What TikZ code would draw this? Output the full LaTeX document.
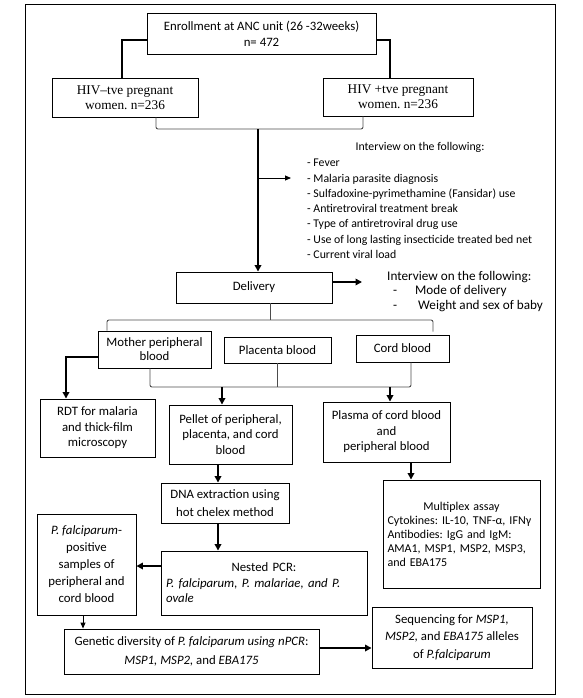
\documentclass[tikz,border=0pt]{standalone}
\usepackage{fontspec}
\setmainfont{Carlito}
\newfontfamily\timesf{Liberation Serif}
\usetikzlibrary{arrows.meta}
\begin{document}
\frenchspacing
\begin{tikzpicture}[x=1pt,y=-1pt,
  box/.style={draw, line width=0.9pt, align=center, inner sep=1pt, font=\fontsize{12.8}{16}\selectfont},
  serifbox/.style={box, font=\timesf\fontsize{13.3}{15}\selectfont},
  conn/.style={line width=1.9pt, -{Triangle[length=6.5pt,width=6.5pt]}},
  heavy/.style={line width=1.9pt},
  thinarrow/.style={line width=0.9pt, -{Triangle[length=6pt,width=5pt]}},
  brk/.style={line width=0.9pt, draw=black!70, rounded corners=2pt},
  txt/.style={inner sep=0pt, align=left}]
\useasboundingbox (0,0) rectangle (582,698);
\draw[line width=1pt] (25,4.5) rectangle (555,694);

% boxes
\node[box, minimum width=229pt, minimum height=41pt] (enroll) at (261.5,33.5) {Enrollment at ANC unit (26 -32weeks)\\n= 472};
\node[serifbox, minimum width=146pt, minimum height=39pt] (hivneg) at (125,97.5) {HIV–tve pregnant\\women. n=236};
\node[serifbox, minimum width=150pt, minimum height=38pt] (hivpos) at (398,97) {HIV +tve pregnant\\women. n=236};
\node[box, minimum width=156pt, minimum height=31pt] (deliv) at (254,287.5) {Delivery};
\node[box, minimum width=113pt, minimum height=37pt, font=\fontsize{12.8}{14}\selectfont] (mother) at (154.5,349.5) {Mother peripheral\\blood};
\node[box, minimum width=107pt, minimum height=26pt] (placenta) at (277.5,350) {Placenta blood};
\node[box, minimum width=93pt, minimum height=27pt] (cord) at (402.5,348.5) {Cord blood};
\node[box, minimum width=115pt, minimum height=58pt, font=\fontsize{12.8}{15.5}\selectfont] (rdt) at (97.5,428) {RDT for malaria\\and thick-film\\microscopy};
\node[box, minimum width=123pt, minimum height=59pt, font=\fontsize{12.8}{15.5}\selectfont] (pellet) at (230.5,434.5) {Pellet of peripheral,\\placenta, and cord\\blood};
\node[box, minimum width=127pt, minimum height=60pt, font=\fontsize{12.8}{15.5}\selectfont] (plasma) at (386.5,432) {Plasma of cord blood\\and\\peripheral blood};
\node[box, minimum width=128pt, minimum height=40pt, font=\fontsize{12.8}{18}\selectfont] (dna) at (225,503) {DNA extraction using\\hot chelex method};
\node[box, minimum width=157pt, minimum height=108pt, text width=148pt, align=left, font=\fontsize{12}{14}\selectfont] (multi) at (461.5,534) {\makebox[148pt]{Multiplex assay}\\Cytokines: IL-10, TNF-α, IFNγ\\Antibodies: IgG and IgM:\\AMA1, MSP1, MSP2, MSP3,\\and EBA175};
\node[box, minimum width=99pt, minimum height=101pt, font=\fontsize{12.8}{17}\selectfont] (pf) at (86.5,564.5) {\textit{P. falciparum}-\\positive\\samples of\\peripheral and\\cord blood};
\node[box, minimum width=206pt, minimum height=64pt, text width=196pt, align=left, font=\fontsize{12.8}{15.5}\selectfont] (nested) at (264,583) {\makebox[196pt]{Nested PCR:}\\\textit{P. falciparum, P. malariae, and P.}\\\textit{ovale}};
\node[box, minimum width=255pt, minimum height=45pt, font=\fontsize{12.8}{19}\selectfont] (genetic) at (191.5,651.5) {Genetic diversity of \textit{P. falciparum using nPCR}:\\\textit{MSP1, MSP2,} and \textit{EBA175}};
\node[box, minimum width=160pt, minimum height=61pt, font=\fontsize{12.8}{17.5}\selectfont] (seq) at (452,637.5) {Sequencing for \textit{MSP1,}\\\textit{MSP2,} and \textit{EBA175} alleles\\of \textit{P.falciparum}};

% text blocks
\node[txt, font=\fontsize{11.8}{15.3}\selectfont] (int1t) at (420,147) {Interview on the following:};
\node[txt, anchor=north west, font=\fontsize{11.8}{15.3}\selectfont] (int1l) at (307,159) {- Fever\\- Malaria parasite diagnosis\\- Sulfadoxine-pyrimethamine (Fansidar) use\\- Antiretroviral treatment break\\- Type of antiretroviral drug use\\- Use of long lasting insecticide treated bed net\\- Current viral load};
\node[txt, anchor=west, font=\fontsize{13.2}{15.5}\selectfont] (int2t) at (387,277) {Interview on the following:};
\node[txt, anchor=north west, font=\fontsize{13.2}{15.5}\selectfont] (int2l) at (393,285) {\makebox[22pt][l]{-}Mode of delivery\\\makebox[25pt][l]{-}Weight and sex of baby};

% enrollment split
\draw[heavy] ([yshift=-6.5pt]enroll.west) -| ([xshift=-3pt]hivneg.north);
\draw[heavy] ([yshift=-6.5pt]enroll.east) -| ([xshift=-8pt]hivpos.north);

% join of the two arms
\coordinate (b1) at (258,129);
\draw[brk] ([xshift=31pt]hivneg.south) |- (b1) -| ([xshift=-35pt]hivpos.south);
\draw[conn] (b1) -- (b1 |- deliv.north);
\coordinate (i1) at (258,178);
\coordinate (i1e) at (291,178);
\draw[thinarrow] (i1) -- (i1e);

% delivery
\coordinate (d2) at (362,282);
\draw[conn] ([yshift=5.5pt]deliv.east) -- (d2);
\coordinate (b2) at (270,320);
\draw[brk] (deliv.south -| b2) -- (b2);
\draw[brk] ([xshift=-47.5pt]mother.north) |- (b2) -| ([xshift=30.5pt,yshift=3pt]cord.north);

% samples
\draw[conn] ([yshift=-7.5pt]mother.west) -| ([xshift=-31.5pt]rdt.north);
\coordinate (b3) at (277.5,387);
\draw[brk] ([xshift=-4.5pt]mother.south) |- (b3) -| ([xshift=8.5pt]cord.south);
\draw[brk] (placenta.south) -- (b3);
\coordinate (p1) at (222,387);
\coordinate (p2) at (390,387);
\draw[conn] (p1) -- (p1 |- pellet.north);
\draw[conn] (p2) -- (p2 |- plasma.north);

% lab work
\coordinate (xd) at (218,0);
\draw[conn] (pellet.south -| xd) -- (dna.north -| xd);
\draw[conn] (dna.south -| xd) -- (nested.north -| xd);
\coordinate (xm) at (411,0);
\draw[conn] (plasma.south -| xm) -- (multi.north -| xm);
\coordinate (yn) at (0,566);
\draw[conn] (nested.west |- yn) -- (pf.east |- yn);
\coordinate (xp) at (83,0);
\draw[thinarrow] (pf.south -| xp) -- (genetic.north -| xp);
\coordinate (yg) at (0,648);
\draw[conn] (genetic.east |- yg) -- (seq.west |- yg);
\end{tikzpicture}
\end{document}
